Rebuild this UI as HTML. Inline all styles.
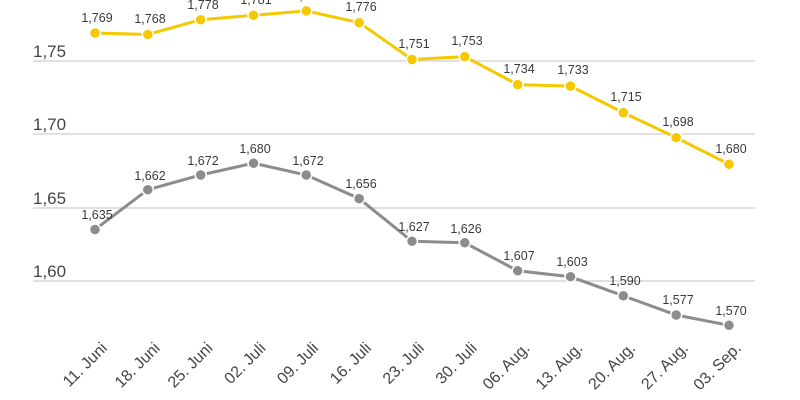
<!DOCTYPE html>
<html><head><meta charset="utf-8"><style>
html,body{margin:0;padding:0;background:#fff;}
svg{display:block;font-family:"Liberation Sans",sans-serif;}
.v{font-size:12.5px;fill:#3a3a3a;text-anchor:middle;}
.a{font-size:17px;fill:#444;}
.x{font-size:16px;fill:#444;text-anchor:end;}
</style></head><body>
<svg width="800" height="400" viewBox="0 0 800 400">
<g stroke="#cfcfcf" stroke-width="1.3">
<line x1="33" y1="61" x2="755" y2="61"/>
<line x1="33" y1="134" x2="755" y2="134"/>
<line x1="33" y1="208" x2="755" y2="208"/>
<line x1="33" y1="281" x2="755" y2="281"/>
</g>
<text class="a" x="33" y="57">1,75</text>
<text class="a" x="33" y="130">1,70</text>
<text class="a" x="33" y="204">1,65</text>
<text class="a" x="33" y="277">1,60</text>

<polyline fill="none" stroke="#f5c800" stroke-width="3" points="95,33 147.8,34.5 200.7,19.7 253.5,15.3 306.3,10.9 359.2,22.7 412,59.5 464.8,56.6 517.7,84.6 570.5,86.1 623.3,112.6 676.2,137.6 729,164.2"/>
<g fill="#f5c800" stroke="#fff" stroke-width="1.5">
<circle cx="95" cy="33" r="5.5"/><circle cx="147.8" cy="34.5" r="5.5"/><circle cx="200.7" cy="19.7" r="5.5"/><circle cx="253.5" cy="15.3" r="5.5"/><circle cx="306.3" cy="10.9" r="5.5"/><circle cx="359.2" cy="22.7" r="5.5"/><circle cx="412" cy="59.5" r="5.5"/><circle cx="464.8" cy="56.6" r="5.5"/><circle cx="517.7" cy="84.6" r="5.5"/><circle cx="570.5" cy="86.1" r="5.5"/><circle cx="623.3" cy="112.6" r="5.5"/><circle cx="676.2" cy="137.6" r="5.5"/><circle cx="729" cy="164.2" r="5.5"/>
</g>
<g class="v">
<text x="97" y="22">1,769</text><text x="150" y="23">1,768</text><text x="203" y="9">1,778</text><text x="256" y="4">1,781</text><text x="308" y="0">1,784</text><text x="361" y="11">1,776</text><text x="414" y="48">1,751</text><text x="467" y="45">1,753</text><text x="519" y="73">1,734</text><text x="573" y="74">1,733</text><text x="626" y="101">1,715</text><text x="678" y="126">1,698</text><text x="731" y="153">1,680</text>
</g>

<polyline fill="none" stroke="#8c8c8c" stroke-width="3" points="95,229.5 147.8,189.7 200.7,175 253.5,163.2 306.3,175 359.2,198.6 412,241.3 464.8,242.8 517.7,270.8 570.5,276.7 623.3,295.8 676.2,315 729,325.3"/>
<g fill="#8c8c8c" stroke="#fff" stroke-width="1.5">
<circle cx="95" cy="229.5" r="5.5"/><circle cx="147.8" cy="189.7" r="5.5"/><circle cx="200.7" cy="175" r="5.5"/><circle cx="253.5" cy="163.2" r="5.5"/><circle cx="306.3" cy="175" r="5.5"/><circle cx="359.2" cy="198.6" r="5.5"/><circle cx="412" cy="241.3" r="5.5"/><circle cx="464.8" cy="242.8" r="5.5"/><circle cx="517.7" cy="270.8" r="5.5"/><circle cx="570.5" cy="276.7" r="5.5"/><circle cx="623.3" cy="295.8" r="5.5"/><circle cx="676.2" cy="315" r="5.5"/><circle cx="729" cy="325.3" r="5.5"/>
</g>
<g class="v">
<text x="97" y="219">1,635</text><text x="150" y="180">1,662</text><text x="203" y="165">1,672</text><text x="255" y="153">1,680</text><text x="308" y="165">1,672</text><text x="361" y="188">1,656</text><text x="414" y="231">1,627</text><text x="466" y="233">1,626</text><text x="519" y="260">1,607</text><text x="572" y="266">1,603</text><text x="625" y="285">1,590</text><text x="678" y="304">1,577</text><text x="731" y="315">1,570</text>
</g>

<g class="x">
<text transform="translate(108,349) rotate(-45)">11. Juni</text>
<text transform="translate(160.8,349) rotate(-45)">18. Juni</text>
<text transform="translate(213.7,349) rotate(-45)">25. Juni</text>
<text transform="translate(266.5,349) rotate(-45)">02. Juli</text>
<text transform="translate(319.3,349) rotate(-45)">09. Juli</text>
<text transform="translate(372.2,349) rotate(-45)">16. Juli</text>
<text transform="translate(425,349) rotate(-45)">23. Juli</text>
<text transform="translate(477.8,349) rotate(-45)">30. Juli</text>
<text transform="translate(530.7,349) rotate(-45)">06. Aug.</text>
<text transform="translate(583.5,349) rotate(-45)">13. Aug.</text>
<text transform="translate(636.3,349) rotate(-45)">20. Aug.</text>
<text transform="translate(689.2,349) rotate(-45)">27. Aug.</text>
<text transform="translate(742,349) rotate(-45)">03. Sep.</text>
</g>
</svg>
</body></html>
